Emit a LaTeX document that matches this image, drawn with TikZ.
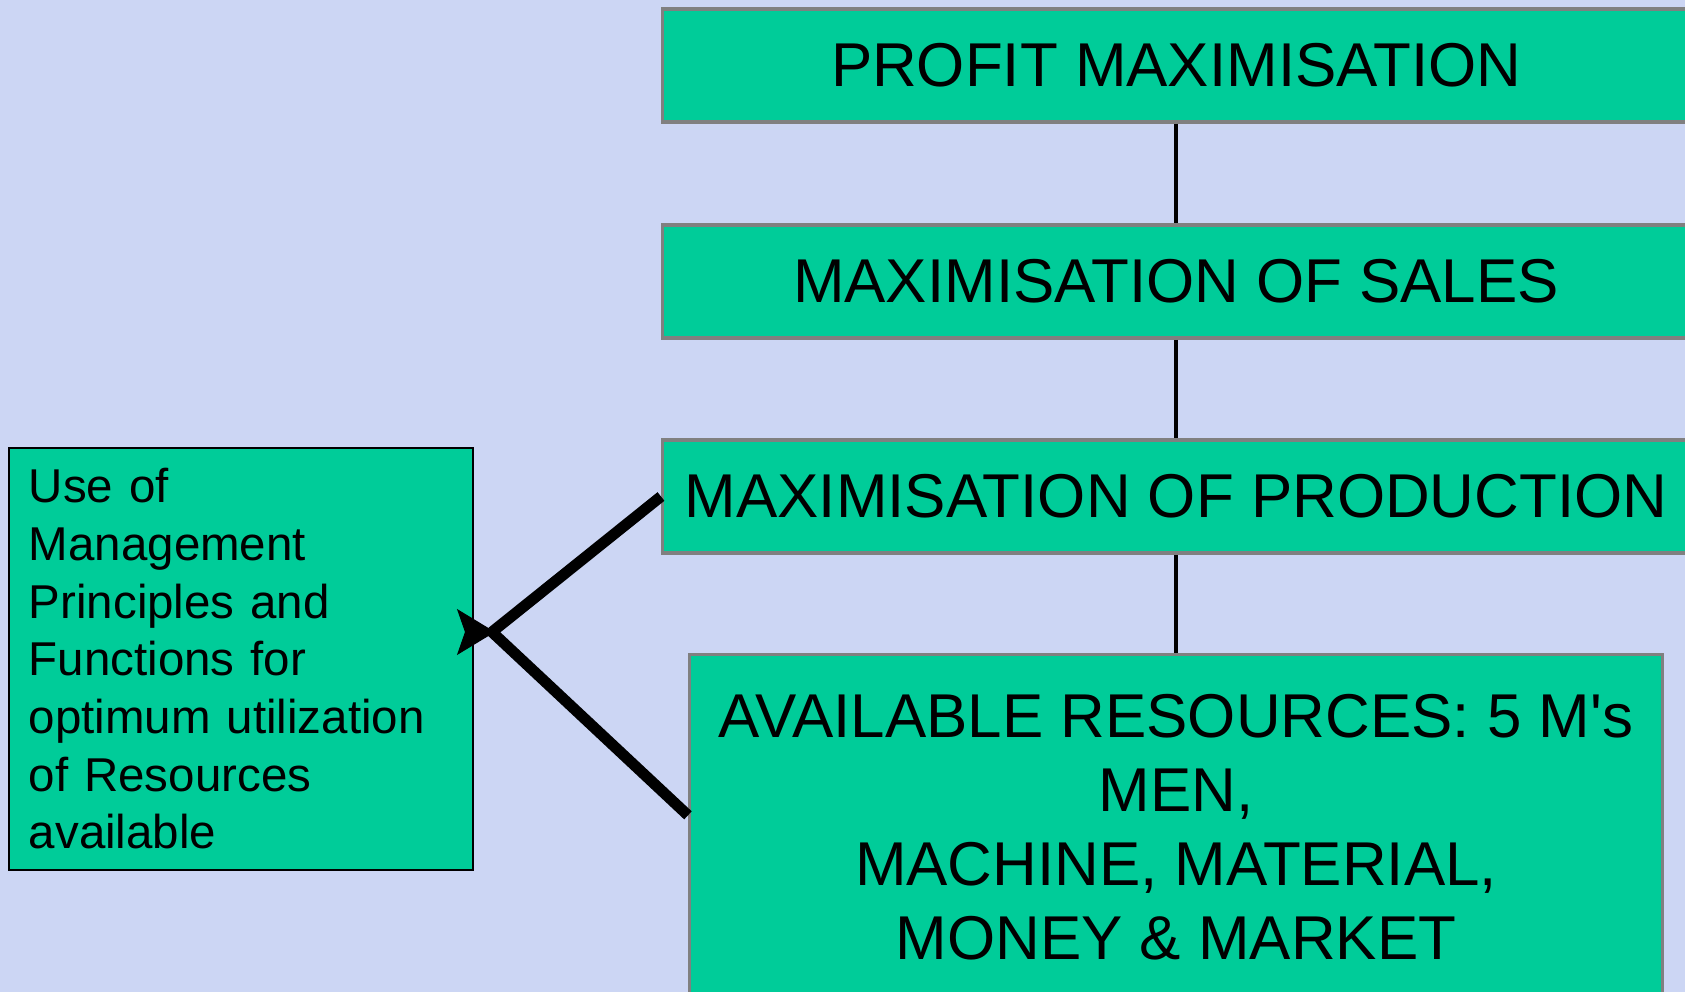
\documentclass[tikz,border=0pt]{standalone}
\usepackage{fontspec}
\setmainfont{Liberation Sans}
\newfontfamily\arialfont{Liberation Sans}
\usetikzlibrary{arrows.meta}
\definecolor{sheetbg}{RGB}{204,214,244}
\definecolor{boxgreen}{RGB}{0,204,153}
\definecolor{boxgray}{RGB}{128,128,128}

\begin{document}
\begin{tikzpicture}[x=0.01cm,y=-0.01cm]
        \tikzstyle{boxstyle}=[shape=rectangle, fill=boxgreen, draw=boxgray, line width=0.035cm, inner sep=0cm, align=center, font=\arialfont\fontsize{17.6}{21}\selectfont]
        \tikzstyle{stagestyle}=[boxstyle, minimum width=10.26cm, minimum height=1.13cm]
        \tikzstyle{linkstyle}=[line width=0.04cm]
        \tikzstyle{thickstyle}=[line width=0.11cm]

        \useasboundingbox (0,0) rectangle (1685,992);
        \clip (0,0) rectangle (1685,992);
        \fill[sheetbg] (0,0) rectangle (1685,992);

        % draw the stages on the right, they run off the right edge
        \node[stagestyle] at (1176, 65.5) (profit) {PROFIT MAXIMISATION};
        \node[stagestyle] at (1176, 281.5) (sales) {MAXIMISATION OF SALES};
        \node[stagestyle] at (1176, 496.5) (production) {MAXIMISATION OF PRODUCTION};

        % draw the resources box at the bottom
        \node[boxstyle, anchor=north, minimum width=9.72cm, minimum height=3.45cm] at (1176, 653) (resources) {AVAILABLE RESOURCES: 5 M's\\MEN,\\MACHINE, MATERIAL,\\MONEY \& MARKET};

        % draw the box on the left
        \node[boxstyle, draw=black, line width=0.025cm, minimum width=4.64cm, minimum height=4.22cm, text width=4.24cm, inner xsep=0.2cm, align=left, font=\arialfont\fontsize{13.5}{16.4}\selectfont] at (241, 659) (mgmt) {Use of\\Management\\Principles and\\Functions for\\optimum utilization\\of Resources\\available};

        % draw the thin lines in between the stages
        \draw[linkstyle] (profit) -- (sales);
        \draw[linkstyle] (sales) -- (production);
        \draw[linkstyle] (production) -- (resources);

        % draw the two thick lines and the arrow head where they meet
        \coordinate (J) at (492, 632);
        \draw[thickstyle] (production.west) -- (J);
        \draw[thickstyle] ([yshift=0.12cm]resources.west) -- (J);
        \draw[-{Stealth[length=0.38cm, width=0.46cm, inset=0.08cm]}, line width=0.01cm] (mgmt.east |- J) -- ([xshift=0.03cm]J);
    \end{tikzpicture}
\end{document}
